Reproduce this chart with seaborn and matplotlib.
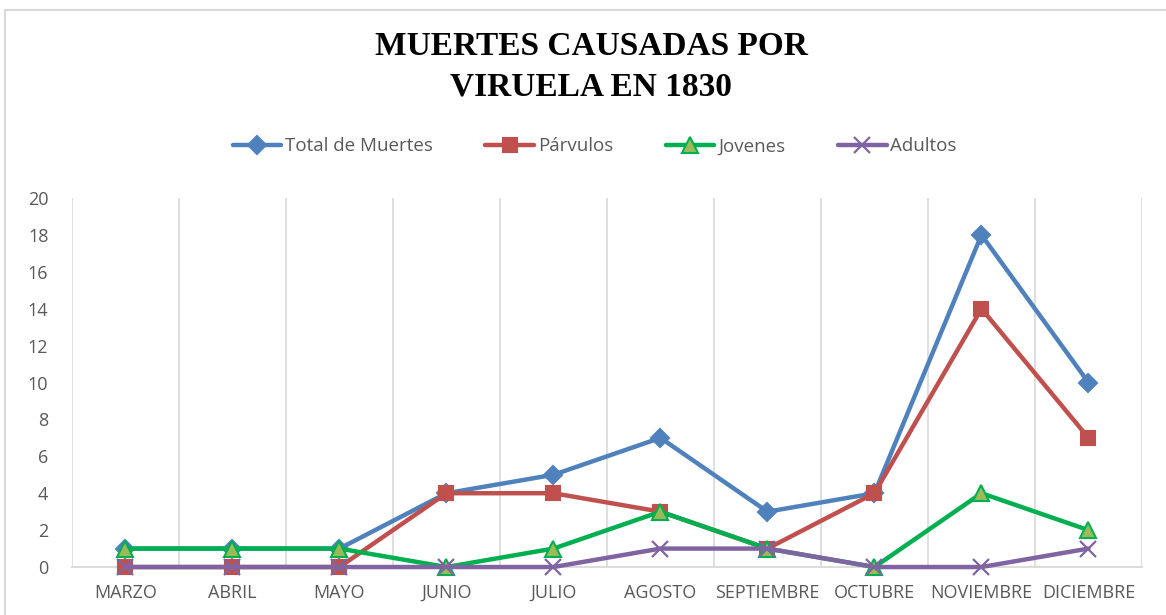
import matplotlib
matplotlib.use('Agg')
import matplotlib.pyplot as plt
import seaborn as sns
import pandas as pd
from matplotlib.lines import Line2D

meses = ['MARZO', 'ABRIL', 'MAYO', 'JUNIO', 'JULIO', 'AGOSTO',
         'SEPTIEMBRE', 'OCTUBRE', 'NOVIEMBRE', 'DICIEMBRE']
total = [1, 1, 1, 4, 5, 7, 3, 4, 18, 10]
parvulos = [0, 0, 0, 4, 4, 3, 1, 4, 14, 7]
jovenes = [1, 1, 1, 0, 1, 3, 1, 0, 4, 2]
adultos = [0, 0, 0, 0, 0, 1, 1, 0, 0, 1]
y_ticks = [0, 2, 4, 6, 8, 10, 12, 14, 16, 18, 20]

sns.set_style('white')
plt.rcParams['font.family'] = ['Open Sans', 'DejaVu Sans']

series = [
    ('Total de Muertes', total, '#4F81BD', 'D', '#4F81BD', '#4F81BD', 9),
    ('Párvulos', parvulos, '#C0504D', 's', '#C0504D', '#C0504D', 10),
    ('Jovenes', jovenes, '#00B050', '^', '#9BBB59', '#00B050', 11),
    ('Adultos', adultos, '#8064A2', 'x', '#8064A2', '#8064A2', 11),
]

fig = plt.figure(figsize=(11.66, 6.15), dpi=100)
ax = fig.add_axes([0.0617, 0.078, 0.9177, 0.600])

x = list(range(len(meses)))
handles = []
for name, vals, col, mk, fc, ec, ms in series:
    df = pd.DataFrame({'x': x, 'y': vals})
    sns.lineplot(data=df, x='x', y='y', ax=ax, color=col, linewidth=3.2,
                 marker=mk, markersize=ms, markerfacecolor=fc,
                 markeredgecolor=ec, markeredgewidth=1.5 if mk != 'x' else 1.6,
                 clip_on=False, zorder=3)
    handles.append(Line2D([0], [0], color=col, linewidth=3.2, marker=mk,
                          markersize=ms, markerfacecolor=fc, markeredgecolor=ec,
                          markeredgewidth=1.5 if mk != 'x' else 1.6, label=name))

ax.set_xlim(-0.5, len(meses) - 0.5)
ax.set_ylim(0, 20)
ax.set_yticks(y_ticks)
ax.set_xticks(x)
ax.set_xticklabels(meses)
ax.set_xlabel('')
ax.set_ylabel('')

# vertical gridlines at category boundaries
for b in [i - 0.5 for i in range(len(meses) + 1)]:
    ax.axvline(b, color='#D9D9D9', linewidth=1.2, zorder=0)

for s in ['top', 'right', 'left']:
    ax.spines[s].set_visible(False)
ax.spines['bottom'].set_color('#D9D9D9')
ax.spines['bottom'].set_linewidth(1.3)

ax.tick_params(axis='y', length=0, pad=17, labelsize=13, labelcolor='#595959')
ax.tick_params(axis='x', length=0, pad=12, labelsize=13, labelcolor='#595959')

fig.text(0.507, 0.925, 'MUERTES CAUSADAS POR', ha='center', va='center',
         family='Liberation Serif', fontweight='bold', fontsize=24, color='black')
fig.text(0.507, 0.858, 'VIRUELA EN 1830', ha='center', va='center',
         family='Liberation Serif', fontweight='bold', fontsize=24, color='black')

leg = fig.legend(handles=handles, loc='center', bbox_to_anchor=(0.51, 0.762),
                 ncol=4, frameon=False, fontsize=13.5, handlelength=2.6,
                 handletextpad=0.2, columnspacing=2.8)
for t in leg.get_texts():
    t.set_color('#595959')

# chart frame border (partially cropped)
fig.add_artist(Line2D([5 / 1166, 1], [1 - 10 / 615, 1 - 10 / 615],
                      transform=fig.transFigure, color='#D9D9D9', linewidth=1.5))
fig.add_artist(Line2D([5 / 1166, 5 / 1166], [0, 1 - 10 / 615],
                      transform=fig.transFigure, color='#D9D9D9', linewidth=1.5))

fig.savefig('out.png', dpi=100)
